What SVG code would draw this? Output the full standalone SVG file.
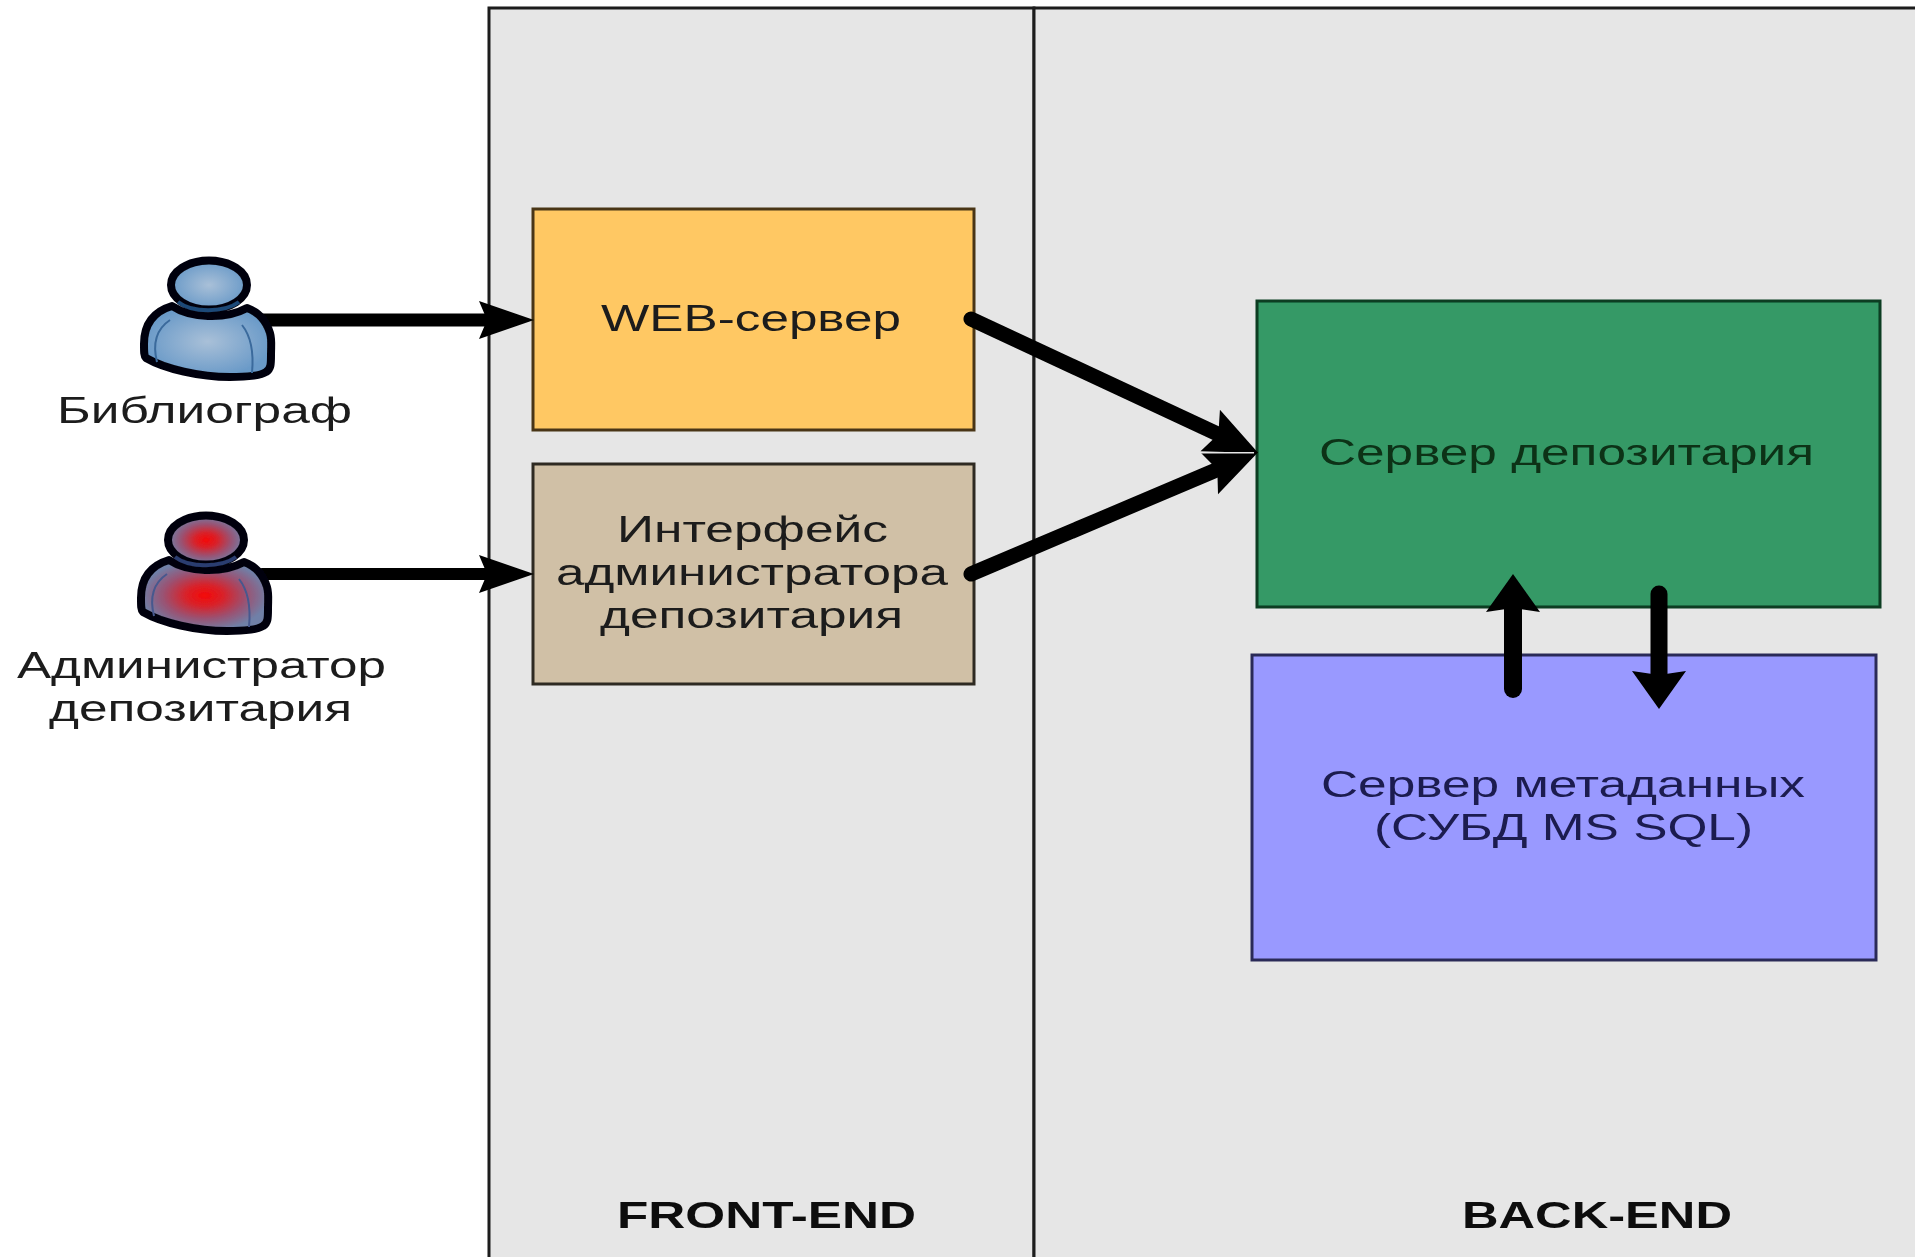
<svg xmlns="http://www.w3.org/2000/svg" width="1915" height="1257" viewBox="0 0 1915 1257">
<style>
text{font-family:"Liberation Sans",Arial,sans-serif;font-size:36px;fill:#1c1c1c;text-anchor:start}
.b{font-weight:bold;fill:#111;font-size:37px}
.box{stroke-width:3}
.c{fill:none;stroke:#000;stroke-linecap:round}
.o{stroke:#050510;stroke-width:8;stroke-linejoin:round}
.i{fill:none;stroke-width:2}
</style>
<defs>
<filter id="soft" x="-2%" y="-2%" width="104%" height="104%"><feGaussianBlur stdDeviation="0.6"/></filter>
<marker id="h" markerUnits="userSpaceOnUse" markerWidth="120" markerHeight="80" refX="60" refY="40" orient="auto"><path transform="translate(60 40)" d="M-15-19 L40 0 L-15 19 L-7 0Z" fill="#000"/></marker>
<marker id="d" markerUnits="userSpaceOnUse" markerWidth="120" markerHeight="80" refX="60" refY="40" orient="auto"><path transform="translate(60 40)" d="M-13-23 L40 0 L-13 23 L-4 0Z" fill="#000"/></marker>
<marker id="v" markerUnits="userSpaceOnUse" markerWidth="120" markerHeight="80" refX="60" refY="40" orient="auto"><path transform="translate(60 40)" d="M-11-27 L27 0 L-11 27 L-7 0Z" fill="#000"/></marker>
<radialGradient id="bl"><stop offset="0" stop-color="#a9c0d8"/><stop offset="1" stop-color="#6a9ac8"/></radialGradient>
<radialGradient id="rd"><stop offset="0" stop-color="#f40808"/><stop offset=".3" stop-color="#d8222a"/><stop offset=".65" stop-color="#9a5272"/><stop offset="1" stop-color="#6f80a8"/></radialGradient>
<path id="body" d="M172 306 C152 312 144 326 144 344 C144 352 144 356 146 358 C165 369 200 377 230 377 C246 377 260 376 266 372 C271 369 271 364 271 355 C271 345 272 340 270 333 C266 320 258 312 247 308 C225 320 190 318 172 306Z"/>
<path id="folds" d="M170 320 C158 328 152 342 157 362 M242 325 C250 335 254 352 252 373"/>
<path id="neck" d="M178 302 C192 313 224 313 239 302"/>
</defs>
<rect width="1915" height="1257" fill="#fff"/>
<g filter="url(#soft)">
<g id="panels">
<rect id="front-end" x="489" y="8" width="545" height="1255" fill="#e6e6e6" stroke="#1c1c1c" stroke-width="3"/>
<rect id="back-end" x="1034" y="8" width="890" height="1255" fill="#e6e6e6" stroke="#1c1c1c" stroke-width="3"/>
<text class="b" x="617" y="1228" textLength="299" lengthAdjust="spacingAndGlyphs">FRONT-END</text>
<text class="b" x="1462" y="1228" textLength="270" lengthAdjust="spacingAndGlyphs">BACK-END</text>
</g>
<g id="web-server">
<rect class="box" x="533" y="209" width="441" height="221" fill="#ffc864" stroke="#483614"/>
<text x="601" y="331" textLength="300" lengthAdjust="spacingAndGlyphs">WEB-сервер</text>
</g>
<g id="admin-interface">
<rect class="box" x="533" y="464" width="441" height="220" fill="#d0c0a6" stroke="#2e2a22"/>
<text x="617" y="542" textLength="271" lengthAdjust="spacingAndGlyphs">Интерфейс</text>
<text x="556" y="585" textLength="392" lengthAdjust="spacingAndGlyphs">администратора</text>
<text x="600" y="628" textLength="303" lengthAdjust="spacingAndGlyphs">депозитария</text>
</g>
<g id="depository-server">
<rect class="box" x="1257" y="301" width="623" height="306" fill="#359966" stroke="#083c20"/>
<text x="1319" y="465" textLength="495" lengthAdjust="spacingAndGlyphs" style="fill:#0a3018">Сервер депозитария</text>
</g>
<g id="metadata-server">
<rect class="box" x="1252" y="655" width="624" height="305" fill="#9999ff" stroke="#2c2c58"/>
<text x="1321" y="797" textLength="484" lengthAdjust="spacingAndGlyphs" style="fill:#1c1c50">Сервер метаданных</text>
<text x="1374" y="840" textLength="379" lengthAdjust="spacingAndGlyphs" style="fill:#1c1c50">(СУБД MS SQL)</text>
</g>
<g id="connectors">
<path class="c" stroke-width="13" d="M262 320H494" marker-end="url(#h)"/>
<path class="c" stroke-width="12" d="M262 574H494" marker-end="url(#h)"/>
<path class="c" stroke-width="15" d="M971 319L1222 436" marker-end="url(#d)"/>
<path class="c" stroke-width="15" d="M971 574L1221 468" marker-end="url(#d)"/>
<path class="c" stroke-width="18" d="M1513 689V601" marker-end="url(#v)"/>
<path class="c" stroke-width="17" d="M1659 594V682" marker-end="url(#v)"/>
<path d="M1198 452.700H1254" fill="none" stroke="#e6e6e6" stroke-width="1.500"/>
</g>
<g id="bibliographer">
<use href="#body" fill="url(#bl)" class="o"/>
<use href="#folds" class="i" stroke="#3a6a9c"/>
<ellipse cx="209" cy="285" rx="38" ry="24.500" fill="url(#bl)" class="o"/>
<use href="#neck" fill="none" stroke="#1f4a78" stroke-width="4"/>
<text x="57" y="423" textLength="295" lengthAdjust="spacingAndGlyphs">Библиограф</text>
</g>
<g id="administrator">
<use href="#body" transform="translate(-3 254)" fill="url(#rd)" class="o"/>
<use href="#folds" transform="translate(-3 254)" class="i" stroke="#46588e"/>
<ellipse cx="206" cy="540" rx="38" ry="24.500" fill="url(#rd)" class="o"/>
<use href="#neck" transform="translate(-3 255)" fill="none" stroke="#2a3c70" stroke-width="4"/>
<text x="17" y="678" textLength="369" lengthAdjust="spacingAndGlyphs">Администратор</text>
<text x="49" y="721" textLength="303" lengthAdjust="spacingAndGlyphs">депозитария</text>
</g>
</g>
</svg>
